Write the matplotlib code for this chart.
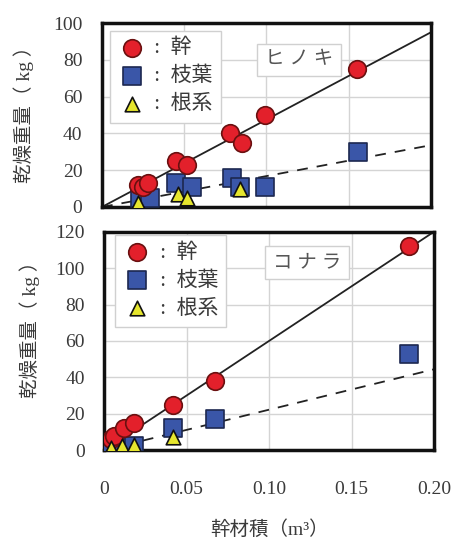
import numpy as np
import matplotlib
matplotlib.use('Agg')
import matplotlib.pyplot as plt

plt.rcParams['font.family'] = ['Liberation Serif', 'Noto Sans CJK JP']

# ヒノキ
hinoki_stem_x = [0.022, 0.025, 0.028, 0.045, 0.052, 0.078, 0.085, 0.099, 0.155]
hinoki_stem_y = [12, 11, 13, 25, 23, 40, 35, 50, 75]
hinoki_leaf_x = [0.023, 0.029, 0.045, 0.055, 0.079, 0.084, 0.099, 0.156]
hinoki_leaf_y = [5, 5, 13, 11, 16, 11, 11, 30]
hinoki_root_x = [0.022, 0.046, 0.052, 0.084]
hinoki_root_y = [2, 7, 5, 10]
hinoki_slope = [475, 168]

# コナラ
konara_stem_x = [0.004, 0.006, 0.012, 0.018, 0.042, 0.067, 0.185]
konara_stem_y = [6, 8, 12, 15, 25, 38, 112]
konara_leaf_x = [0.004, 0.012, 0.018, 0.042, 0.067, 0.185]
konara_leaf_y = [1, 1, 2, 12, 17, 53]
konara_root_x = [0.004, 0.011, 0.018, 0.042]
konara_root_y = [1, 2, 3, 7]
konara_slope = [600, 222]

x_ticks = [0, 0.05, 0.10, 0.15, 0.20]
x_labels = ['0', '0.05', '0.10', '0.15', '0.20']

txt = '#3a3a3a'
fig = plt.figure(figsize=(4.53, 5.39), dpi=100)
ax1 = fig.add_axes([0.225, 0.616, 0.726, 0.341])
ax2 = fig.add_axes([0.230, 0.165, 0.728, 0.405])


def panel(ax, sx, sy, lx, ly, rx, ry, slopes, ymax, name, name_xy, leg_xy, ylab_xy, show_x):
    xx = np.array([0, 0.2])
    ax.plot(xx, slopes[0] * xx, color='#222222', lw=1.3, zorder=2)
    ax.plot(xx, slopes[1] * xx, color='#222222', lw=1.3, ls=(0, (6, 5)), zorder=2)
    ax.scatter(sx, sy, s=160, marker='o', color='#e3202b', edgecolor='#6a1010', lw=1.2, zorder=4, label=' :  幹')
    ax.scatter(lx, ly, s=150, marker='s', color='#3a56a8', edgecolor='#1c2850', lw=1.2, zorder=3, label=' :  枝葉')
    ax.scatter(rx, ry, s=110, marker='^', color='#e6e62e', edgecolor='#111111', lw=1.2, zorder=5, label=' :  根系')
    ax.set_xlim(0, 0.2)
    ax.set_ylim(0, ymax)
    ax.set_yticks(range(0, ymax + 1, 20))
    ax.set_xticks(x_ticks)
    if show_x:
        ax.set_xticklabels(x_labels)
        ax.set_xlabel('幹材積（m³）', fontsize=14, color=txt, labelpad=16)
    else:
        ax.set_xticklabels([])
    ax.tick_params(axis='y', length=0, labelsize=14, labelcolor=txt, pad=14)
    ax.tick_params(axis='x', length=0, labelsize=14, labelcolor=txt, pad=22)
    ax.grid(True, color='#d4d4d4', lw=1)
    ax.set_axisbelow(True)
    for s in ax.spines.values():
        s.set_linewidth(2.5)
        s.set_color('#111111')
    ax.set_ylabel('乾燥重量（ kg ）', fontsize=14, color=txt)
    ax.yaxis.set_label_coords(*ylab_xy)
    leg = ax.legend(loc='upper left', bbox_to_anchor=leg_xy, fontsize=15, frameon=True,
                    fancybox=False, edgecolor='#d0d0d0', handletextpad=0.2, borderpad=0.4,
                    labelspacing=0.4, handlelength=1.3, framealpha=1, borderaxespad=0)
    for t in leg.get_texts():
        t.set_color(txt)
    ax.text(name_xy[0], name_xy[1], name, transform=ax.transAxes, fontsize=14, color='#555555',
            ha='center', va='center', zorder=6,
            bbox=dict(boxstyle='square,pad=0.4', fc='white', ec='#d0d0d0', lw=1))


panel(ax1, hinoki_stem_x, hinoki_stem_y, hinoki_leaf_x, hinoki_leaf_y,
      hinoki_root_x, hinoki_root_y, hinoki_slope, 100, 'ヒ ノ キ', (0.60, 0.80),
      (0.024, 0.96), (-0.207, 0.53), False)
panel(ax2, konara_stem_x, konara_stem_y, konara_leaf_x, konara_leaf_y,
      konara_root_x, konara_root_y, konara_slope, 120, 'コ ナ ラ', (0.615, 0.86),
      (0.033, 0.986), (-0.194, 0.575), True)

fig.savefig('out.png', dpi=100)
